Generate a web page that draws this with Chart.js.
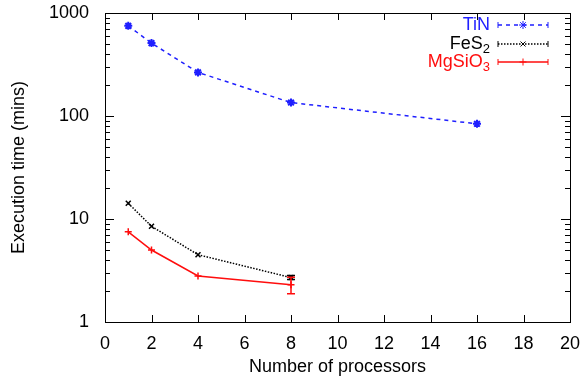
<!DOCTYPE html>
<html>
<head>
    <title>Execution time vs number of processors</title>
    <script src="https://cdn.jsdelivr.net/npm/chart.js"></script>
    <style>
        body { margin: 0; background: #fff; }
    </style>
</head>
<body>

<canvas id="myChart" width="585" height="376"></canvas>

<script>
    // data
    var processors = [1, 2, 4, 8, 16];
    var tinTimes = [750, 510, 265, 135, 84];
    var fes2Times = [14.2, 8.5, 4.5, 2.7];
    var fes2Err = [0, 0, 0, 0.12];
    var mgsio3Times = [7.5, 5.0, 2.8, 2.3];
    var mgsio3Err = [0, 0, 0, 0.42];
    var xTicks = [0, 2, 4, 6, 8, 10, 12, 14, 16, 18, 20];
    var yMajor = [1, 10, 100, 1000];

    var FONT = 'Liberation Sans, Arial, Helvetica, sans-serif';
    var BLUE = '#1f1fff';
    var RED = '#ff0d0d';

    function pts(ys) {
        return ys.map(function (y, i) { return { x: processors[i], y: y }; });
    }

    // frame + inward ticks on all four sides (gnuplot style)
    var framePlugin = {
        id: 'frame',
        afterDraw: function (chart) {
            var c = chart.ctx, a = chart.chartArea;
            var xs = chart.scales.x, ys = chart.scales.y;
            c.save();
            c.strokeStyle = '#000';
            c.lineWidth = 1;
            c.strokeRect(a.left + 0.5, a.top + 0.5, a.right - a.left, a.bottom - a.top);
            c.beginPath();
            xTicks.forEach(function (v) {
                var px = Math.round(xs.getPixelForValue(v)) + 0.5;
                c.moveTo(px, a.bottom); c.lineTo(px, a.bottom - 7);
                c.moveTo(px, a.top); c.lineTo(px, a.top + 7);
            });
            for (var d = 1; d < 1000; d *= 10) {
                for (var m = 1; m <= 10; m++) {
                    var v = d * m;
                    var len = (m === 1 || m === 10) ? 9 : 5;
                    var py = Math.round(ys.getPixelForValue(v)) + 0.5;
                    c.moveTo(a.left, py); c.lineTo(a.left + len, py);
                    c.moveTo(a.right, py); c.lineTo(a.right - len, py);
                }
            }
            c.stroke();
            c.restore();
        }
    };

    // error bars with caps, drawn through the chart scales
    var errorPlugin = {
        id: 'errorBars',
        afterDatasetsDraw: function (chart) {
            var c = chart.ctx;
            var xs = chart.scales.x, ys = chart.scales.y;
            chart.data.datasets.forEach(function (ds) {
                if (!ds.errors) return;
                c.save();
                c.strokeStyle = ds.borderColor;
                c.lineWidth = 1.5;
                ds.data.forEach(function (p, i) {
                    var e = ds.errors[i];
                    if (!e) return;
                    var px = xs.getPixelForValue(p.x);
                    var y1 = ys.getPixelForValue(p.y + e);
                    var y2 = ys.getPixelForValue(p.y - e);
                    c.beginPath();
                    c.moveTo(px, y1); c.lineTo(px, y2);
                    c.moveTo(px - 4, y1); c.lineTo(px + 4, y1);
                    c.moveTo(px - 4, y2); c.lineTo(px + 4, y2);
                    c.stroke();
                });
                c.restore();
            });
        }
    };

    // legend: right aligned labels with sample line to the right
    var legendPlugin = {
        id: 'gpLegend',
        afterDraw: function (chart) {
            var c = chart.ctx;
            var rows = [
                { main: 'TiN', sub: '', ds: chart.data.datasets[0], y: 25 },
                { main: 'FeS', sub: '2', ds: chart.data.datasets[1], y: 44 },
                { main: 'MgSiO', sub: '3', ds: chart.data.datasets[2], y: 62 }
            ];
            var textRight = 490, x1 = 498, x2 = 548;
            c.save();
            rows.forEach(function (r) {
                var col = r.ds.borderColor;
                c.fillStyle = col;
                c.textBaseline = 'middle';
                c.textAlign = 'right';
                var subW = 0;
                if (r.sub) {
                    c.font = '13px ' + FONT;
                    subW = c.measureText(r.sub).width;
                    c.fillText(r.sub, textRight, r.y + 5);
                }
                c.font = '18px ' + FONT;
                c.fillText(r.main, textRight - subW, r.y);

                c.strokeStyle = col;
                c.lineWidth = r.ds.borderWidth;
                c.setLineDash(r.ds.borderDash || []);
                c.beginPath();
                c.moveTo(x1, r.y); c.lineTo(x2, r.y);
                c.stroke();
                c.setLineDash([]);
                c.lineWidth = 1;
                c.beginPath();
                c.moveTo(x1, r.y - 3); c.lineTo(x1, r.y + 3);
                c.moveTo(x2, r.y - 3); c.lineTo(x2, r.y + 3);
                c.stroke();
                Chart.helpers.drawPoint(c, {
                    pointStyle: r.ds.pointStyle,
                    radius: r.ds.pointRadius,
                    borderWidth: r.ds.pointBorderWidth,
                    rotation: 0
                }, (x1 + x2) / 2, r.y);
            });
            c.restore();
        }
    };

    var ctx = document.getElementById('myChart').getContext('2d');
    var myChart = new Chart(ctx, {
        type: 'line',
        data: {
            datasets: [{
                label: 'TiN',
                data: pts(tinTimes),
                borderColor: BLUE,
                backgroundColor: BLUE,
                borderWidth: 1.5,
                borderDash: [4, 4],
                pointStyle: 'star',
                pointRadius: 4,
                pointBorderWidth: 2
            }, {
                label: 'FeS2',
                data: pts(fes2Times),
                errors: fes2Err,
                borderColor: '#000',
                backgroundColor: '#000',
                borderWidth: 1.5,
                borderDash: [1.5, 1.5],
                pointStyle: 'crossRot',
                pointRadius: 3.5,
                pointBorderWidth: 1.5
            }, {
                label: 'MgSiO3',
                data: pts(mgsio3Times),
                errors: mgsio3Err,
                borderColor: RED,
                backgroundColor: RED,
                borderWidth: 1.5,
                pointStyle: 'cross',
                pointRadius: 3.5,
                pointBorderWidth: 1.5
            }]
        },
        options: {
            responsive: false,
            animation: false,
            layout: { padding: { top: 13, right: 15, left: 0, bottom: 0 } },
            plugins: {
                legend: { display: false },
                tooltip: { enabled: false }
            },
            scales: {
                x: {
                    type: 'linear',
                    min: 0,
                    max: 20,
                    grid: { display: false },
                    border: { display: false },
                    afterBuildTicks: function (axis) {
                        axis.ticks = xTicks.map(function (v) { return { value: v }; });
                    },
                    afterFit: function (axis) {
                        axis.height = 54;
                        axis.paddingLeft = 0;
                        axis.paddingRight = 0;
                    },
                    ticks: {
                        color: '#000',
                        padding: 3,
                        maxRotation: 0,
                        font: { family: FONT, size: 18 }
                    },
                    title: {
                        display: true,
                        text: 'Number of processors',
                        color: '#000',
                        padding: { top: 0, bottom: -2 },
                        font: { family: FONT, size: 18 }
                    }
                },
                y: {
                    type: 'logarithmic',
                    min: 1,
                    max: 1000,
                    grid: { display: false },
                    border: { display: false },
                    afterBuildTicks: function (axis) {
                        axis.ticks = yMajor.map(function (v) { return { value: v }; });
                    },
                    afterFit: function (axis) {
                        axis.width = 105;
                        axis.paddingTop = 0;
                        axis.paddingBottom = 0;
                    },
                    ticks: {
                        color: '#000',
                        padding: 8,
                        autoSkip: false,
                        font: { family: FONT, size: 18 },
                        callback: function (v) { return String(v); }
                    },
                    title: {
                        display: true,
                        text: 'Execution time (mins)',
                        color: '#000',
                        padding: { top: 8, bottom: 0 },
                        font: { family: FONT, size: 18 }
                    }
                }
            }
        },
        plugins: [framePlugin, errorPlugin, legendPlugin]
    });
</script>

</body>
</html>
